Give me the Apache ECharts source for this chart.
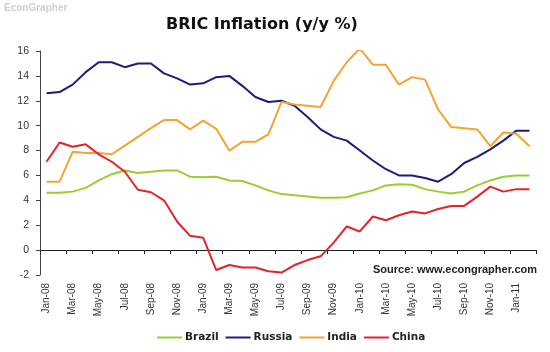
<!DOCTYPE html>
<html>
<head>
<meta charset="utf-8">
<style>
  html, body { margin: 0; padding: 0; background: #fff; }
  #chart { width: 550px; height: 352px; }
</style>
<script src="https://cdn.jsdelivr.net/npm/echarts@6/dist/echarts.min.js"></script>
</head>
<body>
<div id="chart"></div>
<script>
const months = [
  'Jan-08','Feb-08','Mar-08','Apr-08','May-08','Jun-08','Jul-08','Aug-08','Sep-08','Oct-08','Nov-08','Dec-08',
  'Jan-09','Feb-09','Mar-09','Apr-09','May-09','Jun-09','Jul-09','Aug-09','Sep-09','Oct-09','Nov-09','Dec-09',
  'Jan-10','Feb-10','Mar-10','Apr-10','May-10','Jun-10','Jul-10','Aug-10','Sep-10','Oct-10','Nov-10','Dec-10',
  'Jan-11','Feb-11'
]

const brazil = [
  4.6, 4.6, 4.7, 5.0, 5.6, 6.1, 6.4, 6.2, 6.3, 6.4, 6.4, 5.9,
  5.85, 5.9, 5.6, 5.55, 5.2, 4.8, 4.5, 4.4, 4.3, 4.2, 4.2, 4.25,
  4.55, 4.8, 5.2, 5.3, 5.25, 4.9, 4.7, 4.55, 4.7, 5.2, 5.6, 5.9,
  6.0, 6.0
]
const russia = [
  12.6, 12.7, 13.3, 14.3, 15.1, 15.1, 14.7, 15.0, 15.0, 14.2, 13.8, 13.3,
  13.4, 13.9, 14.0, 13.2, 12.3, 11.9, 12.0, 11.6, 10.7, 9.7, 9.1, 8.8,
  8.0, 7.2, 6.5, 6.0, 6.0, 5.8, 5.5, 6.1, 7.0, 7.5, 8.1, 8.8,
  9.6, 9.6
]
const india = [
  5.5, 5.5, 7.9, 7.8, 7.8, 7.7, 8.4, 9.1, 9.8, 10.45, 10.45, 9.7,
  10.4, 9.75, 8.0, 8.7, 8.7, 9.3, 11.9, 11.7, 11.6, 11.5, 13.6, 15.1,
  16.2, 14.9, 14.9, 13.3, 13.9, 13.7, 11.3, 9.9, 9.8, 9.7, 8.35, 9.45,
  9.35, 8.35
]
const china = [
  7.1, 8.65, 8.3, 8.5, 7.7, 7.1, 6.3, 4.85, 4.65, 4.0, 2.3, 1.15,
  1.0, -1.6, -1.2, -1.4, -1.4, -1.7, -1.8, -1.2, -0.8, -0.5, 0.6, 1.9,
  1.5, 2.7, 2.4, 2.8, 3.1, 2.95, 3.3, 3.55, 3.55, 4.3, 5.1, 4.7,
  4.9, 4.9
]

const yTicks = { min: -2, max: 16, step: 2 }

const chart = echarts.init(document.getElementById('chart'), null, { renderer: 'canvas' })

function lineSeries(name, data, color) {
  return {
    name, type: 'line', data,
    xAxisIndex: 0, yAxisIndex: 0,
    symbol: 'none', smooth: false,
    lineStyle: { color, width: 2 },
    itemStyle: { color },
  }
}

chart.setOption({
  backgroundColor: '#fff',
  animation: false,
  textStyle: { fontFamily: 'Liberation Sans, Arial, sans-serif' },
  title: {
    text: 'BRIC Inflation (y/y %)',
    left: 161, top: 12,
    textStyle: { fontSize: 16, fontWeight: 'bold', color: '#111', fontFamily: 'DejaVu Sans, sans-serif' },
  },
  legend: {
    top: 332, left: 157, padding: 0,
    icon: 'rect', itemWidth: 25, itemHeight: 2, itemGap: 7,
    textStyle: { fontSize: 10.5, color: '#222', fontWeight: 'bold', fontFamily: 'DejaVu Sans, sans-serif', padding: [0, 0, 0, -2] },
    data: ['Brazil', 'Russia', 'India', 'China'],
  },
  grid: { left: 40, right: 14, top: 51, bottom: 77 },
  xAxis: [
    {
      type: 'category', data: months, position: 'bottom',
      boundaryGap: true,
      axisLine: { onZero: true, lineStyle: { color: '#222', width: 1 } },
      axisTick: { show: true, interval: 1, length: 4, lineStyle: { color: '#222' } },
      axisLabel: { show: false },
      splitLine: { show: false },
    },
    {
      type: 'category', data: months, position: 'bottom',
      boundaryGap: true,
      axisLine: { show: false, onZero: false },
      axisTick: { show: false },
      axisLabel: { interval: 1, rotate: 90, margin: 8, fontSize: 10, color: '#333' },
      splitLine: { show: false },
    },
  ],
  yAxis: {
    type: 'value', min: yTicks.min, max: yTicks.max, interval: yTicks.step,
    axisLine: { show: true, lineStyle: { color: '#444' } },
    axisTick: { show: true, length: 4, lineStyle: { color: '#444' } },
    axisLabel: { fontSize: 10.5, color: '#333', margin: 11 },
    splitLine: { show: false },
  },
  graphic: [
    {
      type: 'text', left: 4, top: 3,
      style: { text: 'EconGrapher', fill: '#cfcfcf', font: 'bold 10px Liberation Sans, Arial, sans-serif' },
    },
    {
      type: 'text', left: 373, top: 264,
      style: { text: 'Source: www.econgrapher.com', fill: '#222', font: 'bold 11px Liberation Sans, Arial, sans-serif' },
    },
  ],
  series: [
    lineSeries('Brazil', brazil, '#9acd32'),
    lineSeries('Russia', russia, '#1c1c7a'),
    lineSeries('India', india, '#f2a531'),
    lineSeries('China', china, '#e3232b'),
  ],
})
</script>
</body>
</html>
